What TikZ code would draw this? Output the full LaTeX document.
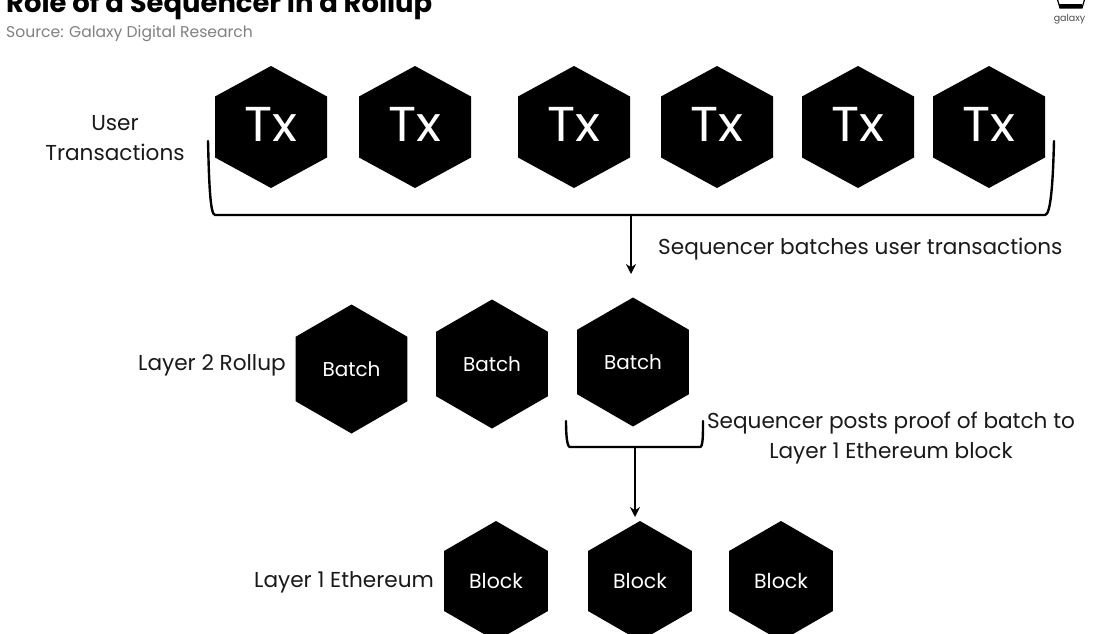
\documentclass[tikz,border=0pt]{standalone}
\usepackage{fontspec}
\setmainfont{Poppins}
\usetikzlibrary{shapes.geometric,arrows.meta}
\tikzset{
	hexa/.style={regular polygon, regular polygon sides=6, shape border rotate=30, fill=black, text=white, inner sep=0pt, transform shape},
	lbl/.style={align=center, text=black!90, inner sep=0pt, font=\fontsize{21.6}{30}\selectfont},
	brk/.style={line width=2.4pt, line cap=round, line join=round},
	arw/.style={line width=2.2pt, -{Stealth[length=10pt,width=10pt]}}
}
\begin{document}
\begin{tikzpicture}[x=1pt, y=-1pt, font=\fontsize{21.6}{30}\selectfont]
	\useasboundingbox (0,0) rectangle (1100,634);
	% heading
	\node[anchor=base west, inner sep=0pt, font=\fontsize{27.4}{30}\selectfont\bfseries] (title) at (6,13) {Role of a Sequencer in a Rollup};
	\node[anchor=base west, inner sep=0pt, text=black!50, font=\fontsize{15.6}{20}\selectfont] (source) at (6,38) {Source: Galaxy Digital Research};
	\draw[line width=1.2pt] (1057,-2) -- (1060,8) -- (1082,8) -- (1085,-2);
	\fill (1059,4) rectangle (1082,8);
	\node[inner sep=0pt, text=black!70, font=\fontsize{9.5}{10}\selectfont] (logo) at (1069.5,19) {galaxy};
	% transactions
	\foreach \i/\xx in {1/271,2/415,3/574,4/717,5/858,6/989}
		\node[hexa, minimum size=122pt, xscale=1.06, font=\fontsize{49}{50}\selectfont] (tx\i) at (\xx,127) {\raisebox{5pt}{Tx}};
	\node[lbl] (users) at (115,138) {User\\Transactions};
	\coordinate (topmid) at (631,215);
	\coordinate (batchin) at (631,274);
	\draw[brk] (208,141) .. controls (209,180) and (210,215) .. (215,215) -- (1045,215) .. controls (1051,215) and (1053,180) .. (1054,141);
	\draw[arw] (topmid) -- (batchin);
	\node[lbl, anchor=west] (seq1) at (658,249) {Sequencer batches user transactions};
	% batches
	\node[hexa, minimum size=129pt, font=\fontsize{20}{24}\selectfont] (batch1) at (351.5,369) {Batch};
	\node[hexa, minimum size=129pt, font=\fontsize{20}{24}\selectfont] (batch2) at (492,364) {Batch};
	\node[hexa, minimum size=129pt, font=\fontsize{20}{24}\selectfont] (batch3) at (633,362) {Batch};
	\node[lbl, anchor=west] (l2) at (138,365) {Layer 2 Rollup};
	\coordinate (lowmid) at (635,447);
	\coordinate (blockin) at (635,517);
	\draw[brk] (566,421) .. controls (566,435) and (567,447) .. (570,447) -- (700,447) .. controls (703,447) and (703,435) .. (703,421);
	\draw[arw] (lowmid) -- (blockin);
	\node[lbl, align=center] (seq2) at (891,438) {Sequencer posts proof of batch to\\Layer 1 Ethereum block};
	% blocks
	\node[hexa, minimum size=120pt, font=\fontsize{20.5}{24}\selectfont] (block1) at (496,581) {Block};
	\node[hexa, minimum size=120pt, font=\fontsize{20.5}{24}\selectfont] (block2) at (640,581) {Block};
	\node[hexa, minimum size=120pt, font=\fontsize{20.5}{24}\selectfont] (block3) at (781,581) {Block};
	\node[lbl, anchor=west] (l1) at (254,582) {Layer 1 Ethereum};
\end{tikzpicture}
\end{document}
